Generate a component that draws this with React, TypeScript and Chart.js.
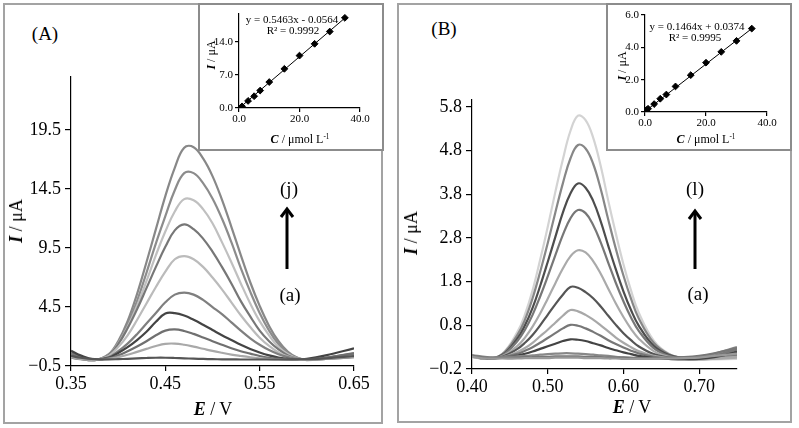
import React, { useEffect, useRef } from "react";
import { Chart, registerables } from "chart.js";
Chart.register(...registerables);

const FONT = '"Liberation Serif", "Times New Roman", Times, serif';

// ---------------- Panel A data (E / V, I / µA) ----------------
const E_A = [0.35, 0.36, 0.375, 0.39, 0.40, 0.41, 0.42, 0.43, 0.44, 0.45, 0.46, 0.47, 0.48, 0.49, 0.50, 0.51, 0.52, 0.53, 0.54, 0.55, 0.56, 0.57, 0.58, 0.59, 0.60, 0.62, 0.65];
const A_a = [0.35, 0.2, 0.08, 0.06, 0.08, 0.11, 0.15, 0.18, 0.2, 0.2, 0.18, 0.15, 0.12, 0.1, 0.08, 0.07, 0.06, 0.05, 0.05, 0.05, 0.05, 0.05, 0.06, 0.07, 0.08, 0.15, 0.35];
const A_b = [0.25, 0.1, 0.02, 0.1, 0.25, 0.45, 0.7, 0.95, 1.2, 1.38, 1.4, 1.3, 1.14, 0.96, 0.78, 0.62, 0.47, 0.35, 0.24, 0.15, 0.09, 0.05, 0.03, 0.02, 0.03, 0.1, 0.3];
const A_c = [0.4, 0.2, 0.02, 0.15, 0.4, 0.75, 1.15, 1.6, 2.1, 2.5, 2.6, 2.47, 2.22, 1.92, 1.6, 1.3, 1.0, 0.75, 0.55, 0.35, 0.2, 0.1, 0.05, 0.03, 0.05, 0.2, 0.6];
const A_d = [0.8, 0.4, 0.05, 0.2, 0.6, 1.1, 1.7, 2.4, 3.25, 3.95, 3.98, 3.78, 3.42, 3.0, 2.55, 2.1, 1.7, 1.3, 0.95, 0.65, 0.4, 0.22, 0.1, 0.05, 0.1, 0.4, 1.0];
const A_e = [0.2, 0.08, 0.0, 0.25, 0.75, 1.4, 2.2, 3.1, 4.0, 4.9, 5.55, 5.72, 5.55, 5.1, 4.5, 3.9, 3.2, 2.5, 1.85, 1.3, 0.85, 0.5, 0.25, 0.1, 0.02, 0.1, 0.25];
const A_f = [0.3, 0.12, 0.0, 0.35, 1.1, 2.1, 3.4, 4.8, 6.2, 7.5, 8.55, 8.82, 8.55, 7.9, 7.0, 6.0, 4.9, 3.8, 2.8, 1.9, 1.2, 0.65, 0.3, 0.1, 0.02, 0.1, 0.3];
const A_g = [0.6, 0.3, 0.02, 0.45, 1.35, 2.7, 4.3, 6.1, 7.9, 9.6, 11.0, 11.5, 11.1, 10.3, 9.2, 7.9, 6.5, 5.0, 3.7, 2.5, 1.6, 0.9, 0.4, 0.12, 0.02, 0.2, 0.55];
const A_h = [0.25, 0.1, 0.0, 0.45, 1.4, 2.8, 4.6, 6.7, 8.9, 10.9, 12.6, 13.65, 13.55, 12.8, 11.6, 10.0, 8.3, 6.5, 4.8, 3.3, 2.1, 1.1, 0.5, 0.15, 0.02, 0.1, 0.25];
const A_i = [0.3, 0.12, 0.0, 0.45, 1.45, 3.0, 5.0, 7.4, 9.9, 12.2, 14.4, 15.85, 15.85, 15.0, 13.7, 12.0, 10.0, 7.8, 5.8, 4.0, 2.5, 1.35, 0.6, 0.2, 0.02, 0.15, 0.35];
const A_j = [0.45, 0.2, 0.0, 0.5, 1.6, 3.3, 5.6, 8.3, 11.1, 13.9, 16.3, 18.0, 18.05, 17.1, 15.6, 13.6, 11.3, 8.9, 6.6, 4.6, 2.9, 1.6, 0.7, 0.2, 0.0, 0.2, 0.5];
const CURVES_A = [A_a, A_b, A_c, A_d, A_e, A_f, A_g, A_h, A_i, A_j];
const COLORS_A = ["#555555", "#a9a9a9", "#707070", "#444444", "#7f7f7f", "#bbbbbb", "#777777", "#c0c0c0", "#8c8c8c", "#888888"];
const X_TICKS_A = [0.35, 0.45, 0.55, 0.65];
const Y_TICKS_A = [-0.5, 4.5, 9.5, 14.5, 19.5];

// ---------------- Panel B data ----------------
const E_B = [0.40, 0.42, 0.44, 0.46, 0.47, 0.48, 0.49, 0.50, 0.51, 0.52, 0.53, 0.54, 0.55, 0.56, 0.57, 0.58, 0.59, 0.60, 0.61, 0.62, 0.64, 0.66, 0.68, 0.70, 0.72, 0.75];
const B_a = [0.08, 0.04, 0.04, 0.04, 0.05, 0.05, 0.05, 0.05, 0.06, 0.06, 0.06, 0.06, 0.05, 0.05, 0.05, 0.04, 0.04, 0.03, 0.03, 0.03, 0.03, 0.04, 0.05, 0.06, 0.1, 0.15];
const B_b = [0.1, 0.06, 0.06, 0.06, 0.07, 0.07, 0.08, 0.08, 0.09, 0.09, 0.09, 0.09, 0.08, 0.08, 0.07, 0.06, 0.06, 0.05, 0.05, 0.05, 0.05, 0.06, 0.07, 0.1, 0.16, 0.28];
const B_c = [0.12, 0.07, 0.07, 0.09, 0.1, 0.11, 0.13, 0.14, 0.15, 0.16, 0.16, 0.15, 0.14, 0.13, 0.11, 0.1, 0.08, 0.07, 0.06, 0.05, 0.05, 0.05, 0.06, 0.08, 0.15, 0.3];
const B_d = [0.1, 0.05, 0.06, 0.11, 0.15, 0.2, 0.26, 0.32, 0.38, 0.44, 0.48, 0.47, 0.44, 0.39, 0.34, 0.28, 0.23, 0.18, 0.14, 0.1, 0.05, 0.03, 0.02, 0.03, 0.07, 0.18];
const B_e = [0.1, 0.05, 0.07, 0.15, 0.22, 0.3, 0.4, 0.51, 0.62, 0.73, 0.81, 0.79, 0.73, 0.65, 0.56, 0.46, 0.37, 0.29, 0.22, 0.16, 0.08, 0.04, 0.03, 0.04, 0.1, 0.25];
const B_f = [0.08, 0.04, 0.07, 0.19, 0.28, 0.4, 0.55, 0.7, 0.86, 1.02, 1.15, 1.12, 1.04, 0.93, 0.8, 0.66, 0.52, 0.4, 0.3, 0.21, 0.1, 0.05, 0.03, 0.02, 0.04, 0.08];
const B_g = [0.1, 0.04, 0.08, 0.26, 0.4, 0.58, 0.8, 1.04, 1.28, 1.5, 1.68, 1.66, 1.56, 1.42, 1.23, 1.02, 0.81, 0.62, 0.46, 0.32, 0.14, 0.06, 0.03, 0.03, 0.08, 0.2];
const B_h = [0.08, 0.03, 0.09, 0.33, 0.52, 0.77, 1.07, 1.41, 1.76, 2.1, 2.38, 2.52, 2.47, 2.27, 1.98, 1.64, 1.3, 0.99, 0.72, 0.5, 0.21, 0.08, 0.03, 0.02, 0.03, 0.06];
const B_i = [0.1, 0.03, 0.11, 0.44, 0.7, 1.04, 1.46, 1.92, 2.4, 2.87, 3.25, 3.44, 3.37, 3.1, 2.7, 2.23, 1.77, 1.35, 0.98, 0.68, 0.28, 0.1, 0.04, 0.03, 0.05, 0.12];
const B_j = [0.1, 0.03, 0.12, 0.5, 0.8, 1.2, 1.7, 2.25, 2.82, 3.38, 3.82, 4.05, 3.95, 3.65, 3.18, 2.62, 2.08, 1.58, 1.15, 0.8, 0.33, 0.12, 0.05, 0.04, 0.1, 0.25];
const B_k = [0.1, 0.03, 0.14, 0.58, 0.93, 1.42, 2.02, 2.68, 3.38, 4.05, 4.62, 4.93, 4.85, 4.5, 3.92, 3.22, 2.55, 1.94, 1.41, 0.97, 0.4, 0.14, 0.05, 0.03, 0.06, 0.15];
const B_l = [0.12, 0.03, 0.15, 0.65, 1.05, 1.6, 2.3, 3.05, 3.85, 4.6, 5.25, 5.6, 5.5, 5.1, 4.45, 3.65, 2.9, 2.2, 1.6, 1.1, 0.45, 0.15, 0.05, 0.02, 0.02, 0.03];
const CURVES_B = [B_a, B_b, B_c, B_d, B_e, B_f, B_g, B_h, B_i, B_j, B_k, B_l];
const COLORS_B = ["#999999", "#777777", "#888888", "#444444", "#777777", "#a8a8a8", "#555555", "#aaaaaa", "#777777", "#4d4d4d", "#878787", "#d3d3d3"];
const X_TICKS_B = [0.40, 0.50, 0.60, 0.70];
const Y_TICKS_B = [-0.2, 0.8, 1.8, 2.8, 3.8, 4.8, 5.8];

// ---------------- Insets (C / µmol L-1 vs I / µA) ----------------
const INSET_A_C = [1, 3, 5, 7, 10, 15, 20, 25, 30, 35];
const INSET_A_I = [0.35, 1.5, 2.5, 3.7, 5.5, 8.3, 11.1, 13.6, 16.2, 19.1];
const TREND_A_C = [0, 35];
const TREND_A_I = [-0.06, 19.06];
const INSET_A_XTICKS = [0, 20, 40];
const INSET_A_YTICKS = [0, 7, 14];

const INSET_B_C = [0.1, 0.5, 1, 3, 5, 7, 10, 15, 20, 25, 30, 35];
const INSET_B_I = [0.08, 0.12, 0.2, 0.49, 0.82, 1.08, 1.58, 2.28, 3.05, 3.72, 4.4, 5.16];
const TREND_B_C = [0, 35];
const TREND_B_I = [0.04, 5.16];
const INSET_B_XTICKS = [0, 20, 40];
const INSET_B_YTICKS = [0, 2, 4, 6];

function fmt(v: number, d: number) {
  const s = Math.abs(v).toFixed(d);
  return v < -1e-9 ? "\u2212" + s : s;
}

function axis(p: any) {
  return {
    type: "linear",
    min: p.min,
    max: p.max,
    afterBuildTicks: (a: any) => {
      a.ticks = p.ticks.map((v: number) => ({ value: v }));
    },
    afterFit: (s: any) => {
      if (p.isX) s.height = p.size;
      else s.width = p.size;
    },
    ticks: {
      callback: (v: any) => fmt(Number(v), p.dec),
      font: { family: FONT, size: p.font },
      color: "#000",
      padding: p.pad,
      maxRotation: 0,
      minRotation: 0,
      autoSkip: false,
    },
    grid: { drawOnChartArea: false, drawTicks: true, tickLength: p.tick, color: "#000", lineWidth: 1.2 },
    border: { display: true, color: "#000", width: 1.2 },
  };
}

function mainConfig(p: any) {
  return {
    type: "line",
    data: {
      datasets: p.curves.map((c: number[], i: number) => ({
        data: p.xs.map((x: number, j: number) => ({ x, y: c[j] })),
        borderColor: p.colors[i],
        borderWidth: 2.2,
        pointRadius: 0,
        fill: false,
        tension: 0.4,
      })),
    },
    options: {
      responsive: false,
      animation: false,
      events: [],
      layout: { padding: { left: 0, right: p.padRight, top: p.padTop, bottom: 0 } },
      plugins: { legend: { display: false }, tooltip: { enabled: false } },
      scales: {
        x: axis({ isX: true, min: p.xMin, max: p.xMax, ticks: p.xTicks, size: p.xH, dec: 2, font: 18, pad: 2, tick: 5 }),
        y: axis({ isX: false, min: p.yMin, max: p.yMax, ticks: p.yTicks, size: p.yW, dec: 1, font: 18, pad: 4, tick: 6 }),
      },
    },
  };
}

function insetConfig(p: any) {
  return {
    type: "scatter",
    data: {
      datasets: [
        {
          type: "line",
          data: p.tc.map((x: number, j: number) => ({ x, y: p.ti[j] })),
          borderColor: "#000",
          borderWidth: 1,
          pointRadius: 0,
          fill: false,
        },
        {
          data: p.c.map((x: number, j: number) => ({ x, y: p.i[j] })),
          pointStyle: "rectRot",
          pointRadius: 3.4,
          backgroundColor: "#000",
          borderColor: "#000",
          showLine: false,
        },
      ],
    },
    options: {
      responsive: false,
      animation: false,
      events: [],
      layout: { padding: { left: 0, right: p.padRight, top: p.padTop, bottom: 0 } },
      plugins: { legend: { display: false }, tooltip: { enabled: false } },
      scales: {
        x: axis({ isX: true, min: 0, max: 40, ticks: p.xTicks, size: p.xH, dec: 1, font: 11, pad: 1, tick: 4 }),
        y: axis({ isX: false, min: 0, max: p.yMax, ticks: p.yTicks, size: p.yW, dec: 1, font: 11, pad: 2, tick: 4 }),
      },
    },
  };
}

function ChartBox({ left, top, width, height, make }: any) {
  const ref = useRef<HTMLCanvasElement>(null);
  useEffect(() => {
    const c = new Chart(ref.current as HTMLCanvasElement, make());
    return () => c.destroy();
  }, []);
  return (
    <canvas
      ref={ref}
      width={width}
      height={height}
      style={{ position: "absolute", left, top, width, height, display: "block" }}
    />
  );
}

function Txt({ x, y, size, rotate, children }: any) {
  return (
    <div
      style={{
        position: "absolute",
        left: x,
        top: y,
        transform: `translate(-50%, -50%)${rotate ? " rotate(-90deg)" : ""}`,
        fontFamily: FONT,
        fontSize: size,
        lineHeight: 1,
        whiteSpace: "nowrap",
        color: "#000",
      }}
    >
      {children}
    </div>
  );
}

function Box({ left, top, width, height, color, bg }: any) {
  return (
    <div
      style={{
        position: "absolute",
        left,
        top,
        width,
        height,
        boxSizing: "border-box",
        border: `2px solid ${color}`,
        background: bg || "transparent",
      }}
    />
  );
}

const IA = (
  <span>
    <b>
      <i>I</i>
    </b>{" "}
    / μA
  </span>
);
const CL = (
  <span>
    <b>
      <i>C</i>
    </b>{" "}
    / μmol L<sup style={{ fontSize: "0.6em", verticalAlign: "0.6em", lineHeight: 0 }}>-1</sup>
  </span>
);
const EV = (
  <span>
    <b>
      <i>E</i>
    </b>{" "}
    / V
  </span>
);

export default function App() {
  return (
    <div
      style={{
        position: "absolute",
        left: 0,
        top: 0,
        width: 799,
        height: 428,
        background: "#fff",
        overflow: "hidden",
      }}
    >
      {/* Panel A main */}
      <Box left={3} top={3} width={380} height={421} color="#a3a3a3" />
      <ChartBox
        left={5}
        top={60}
        width={377}
        height={340}
        make={() =>
          mainConfig({
            xs: E_A,
            curves: CURVES_A,
            colors: COLORS_A,
            xMin: 0.35,
            xMax: 0.65,
            xTicks: X_TICKS_A,
            yMin: -0.5,
            yMax: 24,
            yTicks: Y_TICKS_A,
            yW: 66,
            xH: 34,
            padTop: 17,
            padRight: 28,
          })
        }
      />
      {/* Panel B main */}
      <Box left={397} top={3} width={395} height={420} color="#a3a3a3" />
      <ChartBox
        left={400}
        top={60}
        width={390}
        height={340}
        make={() =>
          mainConfig({
            xs: E_B,
            curves: CURVES_B,
            colors: COLORS_B,
            xMin: 0.4,
            xMax: 0.75,
            xTicks: X_TICKS_B,
            yMin: -0.2,
            yMax: 5.96,
            yTicks: Y_TICKS_B,
            yW: 72,
            xH: 31,
            padTop: 40,
            padRight: 53,
          })
        }
      />

      {/* Inset A */}
      <Box left={198} top={3} width={186} height={148} color="#8c8c8c" bg="#fff" />
      <ChartBox
        left={200}
        top={5}
        width={182}
        height={144}
        make={() =>
          insetConfig({
            c: INSET_A_C,
            i: INSET_A_I,
            tc: TREND_A_C,
            ti: TREND_A_I,
            xTicks: INSET_A_XTICKS,
            yTicks: INSET_A_YTICKS,
            yMax: 20,
            yW: 39,
            xH: 41,
            padTop: 7,
            padRight: 22,
          })
        }
      />
      {/* Inset B */}
      <Box left={606} top={3} width={186} height={148} color="#8c8c8c" bg="#fff" />
      <ChartBox
        left={608}
        top={5}
        width={182}
        height={144}
        make={() =>
          insetConfig({
            c: INSET_B_C,
            i: INSET_B_I,
            tc: TREND_B_C,
            ti: TREND_B_I,
            xTicks: INSET_B_XTICKS,
            yTicks: INSET_B_YTICKS,
            yMax: 6,
            yW: 37,
            xH: 37,
            padTop: 10,
            padRight: 23,
          })
        }
      />

      {/* Texts panel A */}
      <Txt x={45} y={33} size={19}>(A)</Txt>
      <Txt x={16} y={221} size={18} rotate>{IA}</Txt>
      <Txt x={213} y={409} size={18}>{EV}</Txt>
      <Txt x={289} y={188} size={19}>(j)</Txt>
      <Txt x={290} y={294} size={19}>(a)</Txt>
      <Txt x={292} y={19} size={11}>y = 0.5463x - 0.0564</Txt>
      <Txt x={293} y={30} size={11}>R² = 0.9992</Txt>
      <Txt x={300} y={139} size={12}>{CL}</Txt>
      <Txt x={211} y={55} size={12} rotate>{IA}</Txt>

      {/* Texts panel B */}
      <Txt x={444} y={28} size={19}>(B)</Txt>
      <Txt x={411} y={233} size={18} rotate>{IA}</Txt>
      <Txt x={632} y={407} size={18}>{EV}</Txt>
      <Txt x={695} y={188} size={19}>(l)</Txt>
      <Txt x={698} y={293} size={19}>(a)</Txt>
      <Txt x={697} y={26} size={11}>y = 0.1464x + 0.0374</Txt>
      <Txt x={695} y={37} size={11}>R² = 0.9995</Txt>
      <Txt x={706} y={139} size={12}>{CL}</Txt>
      <Txt x={622} y={66} size={12} rotate>{IA}</Txt>

      {/* Arrows */}
      <svg
        width={799}
        height={428}
        style={{ position: "absolute", left: 0, top: 0, pointerEvents: "none" }}
      >
        <line x1={287} y1={269} x2={287} y2={210} stroke="#000" strokeWidth={3} />
        <polyline points="281,217 287,209 293,217" fill="none" stroke="#000" strokeWidth={3} />
        <line x1={695} y1={269} x2={695} y2={212} stroke="#000" strokeWidth={3} />
        <polyline points="689,219 695,211 701,219" fill="none" stroke="#000" strokeWidth={3} />
      </svg>
    </div>
  );
}
